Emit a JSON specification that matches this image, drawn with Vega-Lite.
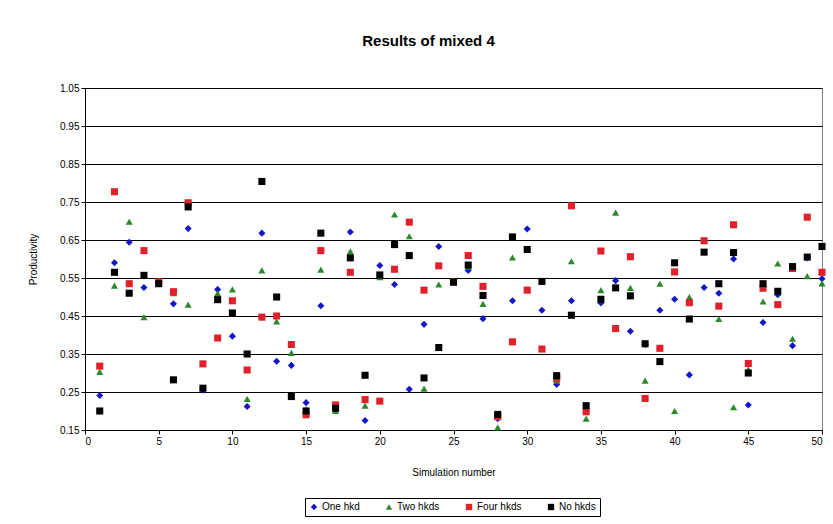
{
  "$schema": "https://vega.github.io/schema/vega-lite/v6.json",
  "autosize": "none",
  "width": 737,
  "height": 342,
  "padding": {"left": 85, "top": 88, "right": 11, "bottom": 94},
  "background": "white",
  "title": {"text": "Results of mixed 4", "font": "Liberation Sans", "fontSize": 15, "fontWeight": "bold", "color": "black", "offset": 34, "dx": -25},
  "data": {"values": [
    {"sim":1,"One hkd":0.241,"Two hkds":0.303,"Four hkds":0.318,"No hkds":0.20},
    {"sim":2,"One hkd":0.59,"Two hkds":0.53,"Four hkds":0.777,"No hkds":0.565},
    {"sim":3,"One hkd":0.644,"Two hkds":0.698,"Four hkds":0.535,"No hkds":0.51},
    {"sim":4,"One hkd":0.525,"Two hkds":0.447,"Four hkds":0.622,"No hkds":0.557},
    {"sim":5,"One hkd":0.54,"Two hkds":0.535,"Four hkds":0.54,"No hkds":0.535},
    {"sim":6,"One hkd":0.482,"Two hkds":0.51,"Four hkds":0.514,"No hkds":0.282},
    {"sim":7,"One hkd":0.68,"Two hkds":0.48,"Four hkds":0.748,"No hkds":0.737},
    {"sim":8,"One hkd":0.255,"Two hkds":0.26,"Four hkds":0.324,"No hkds":0.26},
    {"sim":9,"One hkd":0.52,"Two hkds":0.51,"Four hkds":0.392,"No hkds":0.493},
    {"sim":10,"One hkd":0.397,"Two hkds":0.52,"Four hkds":0.49,"No hkds":0.458},
    {"sim":11,"One hkd":0.212,"Two hkds":0.232,"Four hkds":0.308,"No hkds":0.35},
    {"sim":12,"One hkd":0.668,"Two hkds":0.57,"Four hkds":0.447,"No hkds":0.804},
    {"sim":13,"One hkd":0.331,"Two hkds":0.436,"Four hkds":0.45,"No hkds":0.50},
    {"sim":14,"One hkd":0.32,"Two hkds":0.353,"Four hkds":0.375,"No hkds":0.238},
    {"sim":15,"One hkd":0.222,"Two hkds":0.205,"Four hkds":0.19,"No hkds":0.20},
    {"sim":16,"One hkd":0.477,"Two hkds":0.572,"Four hkds":0.622,"No hkds":0.668},
    {"sim":17,"One hkd":0.21,"Two hkds":0.2,"Four hkds":0.216,"No hkds":0.207},
    {"sim":18,"One hkd":0.671,"Two hkds":0.62,"Four hkds":0.565,"No hkds":0.603},
    {"sim":19,"One hkd":0.175,"Two hkds":0.214,"Four hkds":0.23,"No hkds":0.294},
    {"sim":20,"One hkd":0.583,"Two hkds":0.552,"Four hkds":0.226,"No hkds":0.558},
    {"sim":21,"One hkd":0.533,"Two hkds":0.717,"Four hkds":0.573,"No hkds":0.638},
    {"sim":22,"One hkd":0.257,"Two hkds":0.66,"Four hkds":0.697,"No hkds":0.609},
    {"sim":23,"One hkd":0.428,"Two hkds":0.259,"Four hkds":0.518,"No hkds":0.287},
    {"sim":24,"One hkd":0.633,"Two hkds":0.533,"Four hkds":0.582,"No hkds":0.367},
    {"sim":25,"One hkd":0.54,"Two hkds":0.54,"Four hkds":0.54,"No hkds":0.539},
    {"sim":26,"One hkd":0.57,"Two hkds":0.58,"Four hkds":0.609,"No hkds":0.584},
    {"sim":27,"One hkd":0.443,"Two hkds":0.482,"Four hkds":0.528,"No hkds":0.504},
    {"sim":28,"One hkd":0.18,"Two hkds":0.157,"Four hkds":0.185,"No hkds":0.191},
    {"sim":29,"One hkd":0.49,"Two hkds":0.604,"Four hkds":0.382,"No hkds":0.658},
    {"sim":30,"One hkd":0.679,"Two hkds":0.52,"Four hkds":0.518,"No hkds":0.625},
    {"sim":31,"One hkd":0.465,"Two hkds":0.365,"Four hkds":0.363,"No hkds":0.541},
    {"sim":32,"One hkd":0.27,"Two hkds":0.28,"Four hkds":0.285,"No hkds":0.293},
    {"sim":33,"One hkd":0.49,"Two hkds":0.594,"Four hkds":0.74,"No hkds":0.452},
    {"sim":34,"One hkd":0.2,"Two hkds":0.18,"Four hkds":0.198,"No hkds":0.214},
    {"sim":35,"One hkd":0.484,"Two hkds":0.518,"Four hkds":0.621,"No hkds":0.494},
    {"sim":36,"One hkd":0.543,"Two hkds":0.722,"Four hkds":0.417,"No hkds":0.524},
    {"sim":37,"One hkd":0.41,"Two hkds":0.524,"Four hkds":0.606,"No hkds":0.503},
    {"sim":38,"One hkd":0.375,"Two hkds":0.28,"Four hkds":0.233,"No hkds":0.377},
    {"sim":39,"One hkd":0.465,"Two hkds":0.535,"Four hkds":0.365,"No hkds":0.33},
    {"sim":40,"One hkd":0.494,"Two hkds":0.2,"Four hkds":0.566,"No hkds":0.59},
    {"sim":41,"One hkd":0.295,"Two hkds":0.5,"Four hkds":0.485,"No hkds":0.442},
    {"sim":42,"One hkd":0.525,"Two hkds":0.65,"Four hkds":0.648,"No hkds":0.618},
    {"sim":43,"One hkd":0.51,"Two hkds":0.442,"Four hkds":0.476,"No hkds":0.535},
    {"sim":44,"One hkd":0.6,"Two hkds":0.21,"Four hkds":0.69,"No hkds":0.617},
    {"sim":45,"One hkd":0.216,"Two hkds":0.31,"Four hkds":0.325,"No hkds":0.3},
    {"sim":46,"One hkd":0.433,"Two hkds":0.488,"Four hkds":0.523,"No hkds":0.535},
    {"sim":47,"One hkd":0.506,"Two hkds":0.588,"Four hkds":0.48,"No hkds":0.515},
    {"sim":48,"One hkd":0.372,"Two hkds":0.39,"Four hkds":0.575,"No hkds":0.58},
    {"sim":49,"One hkd":0.603,"Two hkds":0.555,"Four hkds":0.71,"No hkds":0.605},
    {"sim":50,"One hkd":0.548,"Two hkds":0.536,"Four hkds":0.565,"No hkds":0.633}
  ]},
  "transform": [{"fold": ["One hkd", "Two hkds", "Four hkds", "No hkds"], "as": ["series", "value"]}],
  "mark": {"type": "point", "filled": true, "opacity": 1, "size": 50},
  "encoding": {
    "x": {"field": "sim", "type": "quantitative", "scale": {"domain": [0, 50], "nice": false},
      "axis": {"title": "Simulation number", "values": [0,5,10,15,20,25,30,35,40,45,50], "grid": false, "titlePadding": 21}},
    "y": {"field": "value", "type": "quantitative", "scale": {"domain": [0.15, 1.05], "nice": false, "zero": false},
      "axis": {"title": "Productivity", "values": [0.15,0.25,0.35,0.45,0.55,0.65,0.75,0.85,0.95,1.05], "format": ".2f", "grid": true, "titlePadding": 21}},
    "color": {"field": "series", "type": "nominal",
      "scale": {"domain": ["One hkd", "Two hkds", "Four hkds", "No hkds"], "range": ["#1515c8", "#2a8a2a", "#e0202a", "#000000"]},
      "legend": {"title": null, "orient": "none", "direction": "horizontal", "legendX": 220, "legendY": 410, "columns": 4}},
    "shape": {"field": "series", "type": "nominal",
      "scale": {"domain": ["One hkd", "Two hkds", "Four hkds", "No hkds"], "range": ["diamond", "triangle-up", "square", "square"]}},
    "order": {"field": "sim"}
  },
  "config": {
    "font": "Liberation Sans",
    "view": {"stroke": "#808080", "strokeWidth": 1},
    "axis": {"domainColor": "black", "tickColor": "black", "gridColor": "black", "gridWidth": 1, "gridOpacity": 1,
      "labelFont": "Liberation Sans", "labelFontSize": 10, "labelColor": "black", "tickSize": 4,
      "titleFont": "Liberation Sans", "titleFontSize": 10, "titleFontWeight": "normal", "titleColor": "black"},
    "legend": {"strokeColor": "black", "padding": 4, "labelFontSize": 10, "labelColor": "black", "symbolSize": 40, "columnPadding": 24, "labelOffset": 3, "fillColor": "white"}
  }
}
